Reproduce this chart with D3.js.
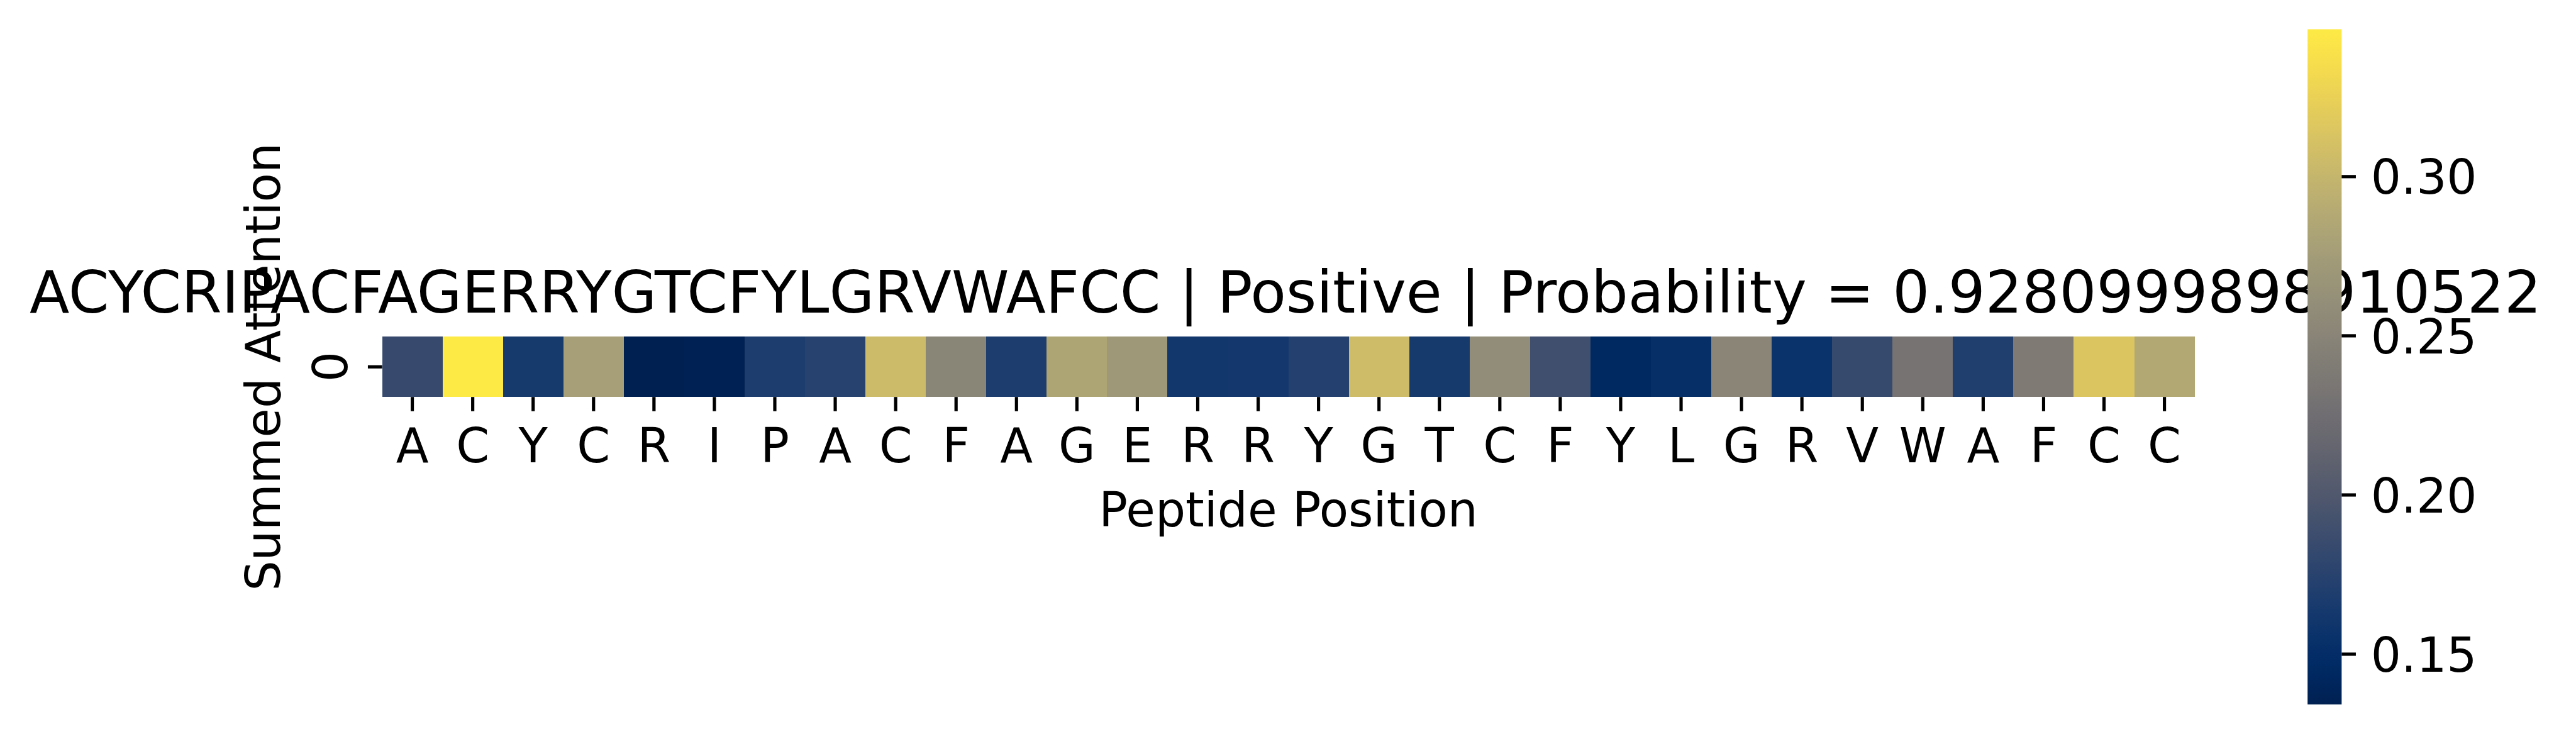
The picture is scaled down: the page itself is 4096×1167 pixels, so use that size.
<!DOCTYPE html>
<html>
<head>
<meta charset="utf-8">
<script src="https://cdn.jsdelivr.net/npm/d3@7"></script>
<style>
  html, body { margin: 0; padding: 0; background: #ffffff; }
  svg { display: block; }
  text { font-family: "DejaVu Sans", sans-serif; fill: #000; }
</style>
</head>
<body>
<script>
// ---------- data ----------
const residues = ["A","C","Y","C","R","I","P","A","C","F","A","G","E","R","R","Y","G","T","C","F","Y","L","G","R","V","W","A","F","C","C"];
const attention = [0.1837,0.3462,0.1646,0.2775,0.1341,0.1352,0.1682,0.1744,0.3048,0.2503,
                   0.1682,0.2836,0.2705,0.1612,0.1623,0.1723,0.3059,0.1646,0.2592,0.1892,
                   0.1436,0.1517,0.2508,0.1564,0.1835,0.2306,0.1702,0.2395,0.3144,0.2868];
const rowLabels = ["0"];
const cbarTicks = [0.15, 0.20, 0.25, 0.30];
const titleText = "ACYCRIPACFAGERRYGTCFYLGRVWAFCC | Positive | Probability = 0.9280999898910522";
const xLabel = "Peptide Position";
const yLabel = "Summed Attention";

// ---------- layout ----------
const W = 4096, H = 1167;
const k = 4096 / 5287;
let fs = 100 * k;            // 12pt at 600dpi
let titleFs = 116.67 * k;    // 14pt
const tickLen = 29.17 * k;
const tickW = 6.67 * k;

const heatLeft = 784.2 * k, heatRight = 4504.3 * k;
const heatTop = 691 * k, heatBottom = 814.7 * k;
const cbLeft = 4736.1 * k, cbRight = 4806 * k, cbTop = 60 * k, cbBottom = 1445.7 * k;

const svg = d3.select("body").append("svg").attr("width", W).attr("height", H);

// fit font size so a text reaches the reference width
function fitSize(txt, size, targetW) {
  const t = svg.append("text").attr("font-size", size).text(txt);
  const w = t.node().getComputedTextLength();
  t.remove();
  return w > 0 ? size * targetW / w : size;
}
titleFs = fitSize(titleText, titleFs, (5216 - 60.7) * k);
fs = fitSize(xLabel, fs, (3033.5 - 2255.7) * k);

const idx = d3.range(residues.length);
const x = d3.scaleBand().domain(idx).range([heatLeft, heatRight]).padding(0);
const y = d3.scaleBand().domain(rowLabels).range([heatTop, heatBottom]).padding(0);
const vmin = d3.min(attention), vmax = d3.max(attention);
const color = d3.scaleSequential(d3.interpolateCividis).domain([vmin, vmax]);

// cells
svg.append("g").selectAll("rect").data(idx).join("rect")
  .attr("x", i => x(i))
  .attr("y", y("0"))
  .attr("width", x.bandwidth() + 0.5)
  .attr("height", y.bandwidth())
  .attr("fill", i => color(attention[i]))
  .attr("shape-rendering", "crispEdges");

// x axis
const gx = svg.append("g").attr("transform", `translate(0,${heatBottom})`)
  .call(d3.axisBottom(x).tickSize(tickLen).tickFormat(i => residues[i]));
gx.select(".domain").remove();
gx.selectAll(".tick line").attr("stroke", "#000").attr("stroke-width", tickW);
gx.selectAll(".tick text").attr("y", 949.3 * k - heatBottom).attr("dy", 0)
  .attr("font-size", fs).attr("font-family", "DejaVu Sans");

// y axis
const gy = svg.append("g").attr("transform", `translate(${heatLeft},0)`)
  .call(d3.axisLeft(y).tickSize(tickLen));
gy.select(".domain").remove();
gy.selectAll(".tick line").attr("stroke", "#000").attr("stroke-width", tickW);
gy.selectAll(".tick text").remove();
svg.append("g").selectAll("text").data(rowLabels).join("text")
  .attr("transform", d => `translate(${712 * k},${y(d) + y.bandwidth() / 2}) rotate(-90)`)
  .attr("text-anchor", "middle")
  .attr("font-size", fs)
  .text(d => d);

// axis labels
svg.append("text")
  .attr("x", (heatLeft + heatRight) / 2)
  .attr("y", 1080.7 * k)
  .attr("text-anchor", "middle")
  .attr("font-size", fs)
  .text(xLabel);

svg.append("text")
  .attr("transform", `translate(${575 * k},${(heatTop + heatBottom) / 2}) rotate(-90)`)
  .attr("text-anchor", "middle")
  .attr("font-size", fs)
  .text(yLabel);

// title
svg.append("text")
  .attr("x", (60.7 + 5216) / 2 * k)
  .attr("y", 641 * k)
  .attr("text-anchor", "middle")
  .attr("font-size", titleFs)
  .text(titleText);

// colorbar
const defs = svg.append("defs");
const grad = defs.append("linearGradient").attr("id", "cbgrad")
  .attr("x1", 0).attr("y1", 1).attr("x2", 0).attr("y2", 0);
grad.selectAll("stop").data(d3.range(0, 1.0001, 0.02)).join("stop")
  .attr("offset", t => t)
  .attr("stop-color", t => d3.interpolateCividis(t));
svg.append("rect")
  .attr("x", cbLeft).attr("y", cbTop)
  .attr("width", cbRight - cbLeft).attr("height", cbBottom - cbTop)
  .attr("fill", "url(#cbgrad)");

const cy = d3.scaleLinear().domain([vmin, vmax]).range([cbBottom, cbTop]);
const gc = svg.append("g").attr("transform", `translate(${cbRight},0)`)
  .call(d3.axisRight(cy).tickValues(cbarTicks).tickSize(tickLen).tickFormat(d3.format(".2f")));
gc.select(".domain").remove();
gc.selectAll(".tick line").attr("stroke", "#000").attr("stroke-width", tickW);
gc.selectAll(".tick text")
  .attr("x", 4866 * k - cbRight)
  .attr("dy", 0)
  .attr("y", 0.3645 * fs)
  .attr("font-size", fs).attr("font-family", "DejaVu Sans");
</script>
</body>
</html>
